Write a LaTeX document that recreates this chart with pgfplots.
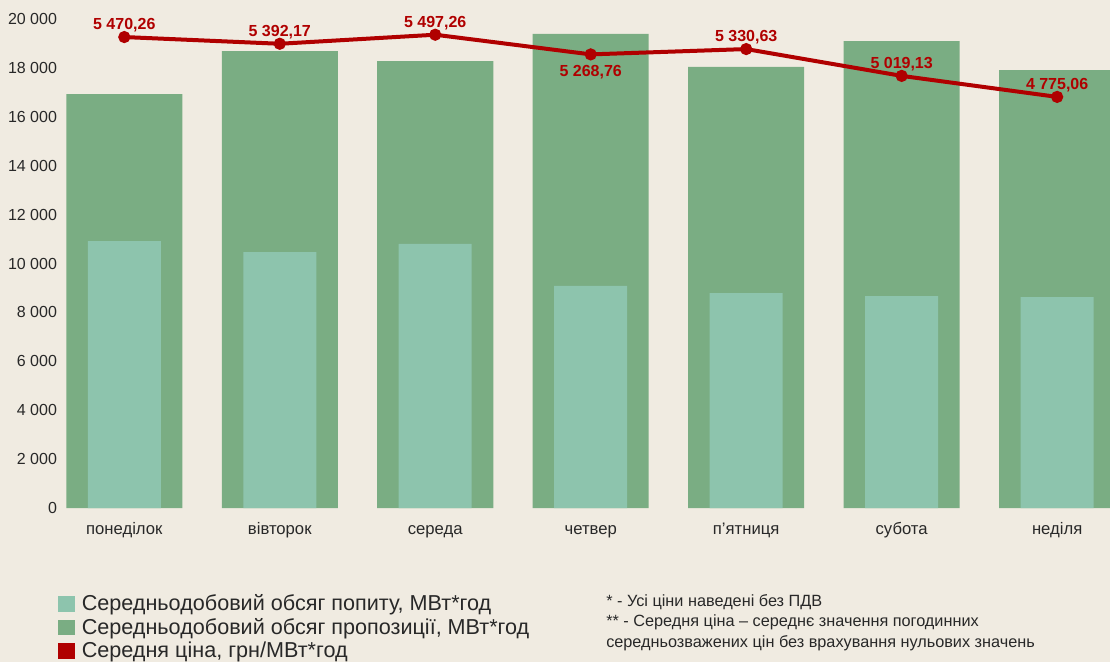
\documentclass[border=0pt]{standalone}
\usepackage{pgfplots}
\pgfplotsset{compat=1.18}
\usepackage{fontspec}
\setmainfont{Liberation Sans}
\definecolor{bg}{RGB}{240,235,225}
\definecolor{supply}{RGB}{122,173,131}
\definecolor{demand}{RGB}{141,196,173}
\definecolor{price}{RGB}{176,0,0}
\definecolor{txt}{RGB}{40,40,40}
\begin{document}
\begin{tikzpicture}
\fill[bg] (0,0) rectangle (832.5pt,496.5pt);
\begin{axis}[
  at={(44.25pt,115.5pt)}, anchor=south west,
  scale only axis, width=788.25pt, height=366.75pt,
  xmin=-0.42, xmax=6.34, ymin=0, ymax=20000,
  scaled y ticks=false,
  axis line style={draw=none}, major tick length=0pt,
  xtick={0,...,6},
  xticklabels={понеділок,вівторок,середа,четвер,п’ятниця,субота,неділя},
  ytick={0,2000,4000,6000,8000,10000,12000,14000,16000,18000,20000},
  yticklabels={0,2 000,4 000,6 000,8 000,10 000,12 000,14 000,16 000,18 000,20 000},
  yticklabel style={font=\fontsize{12}{14}\selectfont, text=txt, xshift=2pt},
  xticklabel style={font=\fontsize{12.5}{14}\selectfont, text=txt, anchor=base, yshift=-19.5pt, inner sep=0pt},
  clip=false,
  legend style={at={(0,0)}, anchor=north west, xshift=-1pt, yshift=-63pt,
    draw=none, fill=none, font=\fontsize{16.2}{19}\selectfont, text=txt,
    row sep=0pt, column sep=3.5pt, cells={anchor=west}, inner sep=0pt},
]
\addplot[ybar, bar width=87pt, bar shift=0pt, fill=supply, draw=none, forget plot]
  coordinates {(0,16930) (1,18690) (2,18280) (3,19390) (4,18040) (5,19100) (6,17910)};
\addplot[ybar, bar width=54.75pt, bar shift=0pt, fill=demand, draw=none, forget plot]
  coordinates {(0,10920) (1,10470) (2,10800) (3,9080) (4,8790) (5,8670) (6,8630)};
\addlegendimage{legend image code/.code={\fill[demand] (0pt,-5.5pt) rectangle (12pt,5.5pt);}}
\addlegendentry{Середньодобовий обсяг попиту, МВт*год}
\addlegendimage{legend image code/.code={\fill[supply] (0pt,-5.5pt) rectangle (12pt,5.5pt);}}
\addlegendentry{Середньодобовий обсяг пропозиції, МВт*год}
\addlegendimage{legend image code/.code={\fill[price] (0pt,-5.5pt) rectangle (12pt,5.5pt);}}
\addlegendentry{Середня ціна, грн/МВт*год}
\end{axis}
\begin{axis}[
  at={(44.25pt,115.5pt)}, anchor=south west,
  scale only axis, width=788.25pt, height=366.75pt,
  xmin=-0.42, xmax=6.34, ymin=0, ymax=5680,
  hide axis, clip=false,
]
\addplot[price, line width=3pt, mark=*, mark size=3pt, mark options={solid}]
  coordinates {(0,5470.26) (1,5392.17) (2,5497.26) (3,5268.76) (4,5330.63) (5,5019.13) (6,4775.06)};
\addplot[draw=none, mark=none, point meta=explicit symbolic, nodes near coords,
  nodes near coords style={font=\bfseries\fontsize{12}{14}\selectfont, text=price, anchor=base, yshift=5.5pt, inner sep=0pt}]
  coordinates {(0,5470.26) [5 470,26] (1,5392.17) [5 392,17] (2,5497.26) [5 497,26] (4,5330.63) [5 330,63] (5,5019.13) [5 019,13] (6,4775.06) [4 775,06]};
\addplot[draw=none, mark=none, point meta=explicit symbolic, nodes near coords,
  nodes near coords style={font=\bfseries\fontsize{12}{14}\selectfont, text=price, anchor=base, yshift=-16.8pt, inner sep=0pt}]
  coordinates {(3,5268.76) [5 268,76]};
\end{axis}
\node[anchor=base west, inner sep=0pt, font=\fontsize{12.2}{14}\selectfont, text=txt] at (454.5pt,42pt) {* - Усі ціни наведені без ПДВ};
\node[anchor=base west, inner sep=0pt, font=\fontsize{12.2}{14}\selectfont, text=txt] at (454.5pt,27pt) {** - Середня ціна – середнє значення погодинних};
\node[anchor=base west, inner sep=0pt, font=\fontsize{12.2}{14}\selectfont, text=txt] at (454.5pt,11.25pt) {середньозважених цін без врахування нульових значень};
\pgfresetboundingbox
\useasboundingbox (0,0) rectangle (832.5pt,496.5pt);
\end{tikzpicture}
\end{document}
